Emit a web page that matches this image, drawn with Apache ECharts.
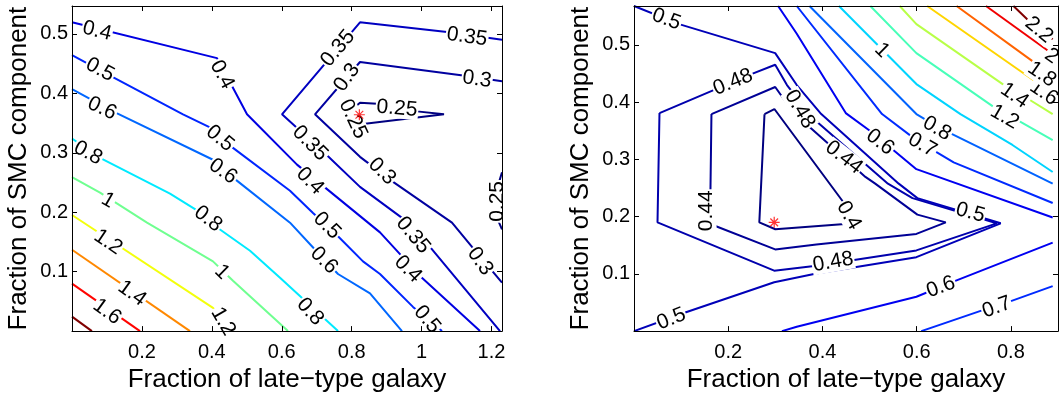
<!DOCTYPE html>
<html><head><meta charset="utf-8">
<script src="https://cdn.jsdelivr.net/npm/echarts@6/dist/echarts.min.js"></script>
<style>html,body{margin:0;padding:0;background:#fff}#c{width:1061px;height:398px}</style>
</head><body><div id="c"></div>
<script>
// ---------- LEFT PANEL DATA ----------
const xTitle = 'Fraction of late\u2212type galaxy';
const yTitle = 'Fraction of SMC component';
const leftRange = {xmax: 1.23, ymax: 0.547, cmin: 0.25, cmax: 1.8};
const L_1_8 = [[0,0.0244],[0.057,0]];
const L_1_6 = [[0,0.0798],[0.1945,0]];
const L_1_4 = [[0,0.1368],[0.3375,0]];
const L_1_2 = [[0,0.1954],[0.4033,0.0391],[0.472,0]];
const L_1_0 = [[0,0.259],[0.0801,0.2329],[0.2145,0.1824],[0.4033,0.1173],[0.4605,0.0847],[0.6178,0]];
const L_0_8 = [[0,0.3241],[0.0801,0.2915],[0.2803,0.2313],[0.3518,0.2052],[0.4233,0.171],[0.5092,0.1352],[0.595,0.0896],[0.7609,0]];
const L_0_6 = [[0,0.4072],[0.1173,0.3697],[0.4033,0.2883],[0.4662,0.2557],[0.6236,0.1824],[0.7008,0.1336],[0.7609,0.0961],[0.8524,0.0635],[0.9439,0]];
const L_0_5 = [[0,0.4642],[0.1087,0.43],[0.3175,0.3648],[0.4033,0.3404],[0.4577,0.3095],[0.6236,0.2362],[0.6894,0.1987],[0.758,0.1612],[0.8324,0.1173],[0.881,0.0961],[0.9754,0.0407],[1.0584,0]];
const L_0_4 = [[0,0.5196],[0.4148,0.4593],[0.452,0.4186],[0.5006,0.3648],[0.6436,0.2801],[0.881,0.1661],[0.9954,0.0928],[1.1671,0]];
const L_0_35 = [[1.23,0.4902],[1.0727,0.5032],[0.8238,0.5196],[0.6007,0.3648],[0.7285,0.2964],[0.8238,0.2427],[0.9439,0.1905],[1.0239,0.1417],[1.2243,0]];
const L_0_3 = [[1.23,0.4202],[1.1184,0.43],[0.8238,0.4528],[0.6951,0.3648],[0.8238,0.2932],[0.9153,0.2524],[1.0869,0.1824],[1.1442,0.1417],[1.23,0.0814]];
const L_0_25a = [[0.801,0.373],[0.8238,0.3844],[0.8724,0.3827],[0.9868,0.3697],[1.0641,0.3648],[0.8324,0.3485],[0.801,0.373]];
const L_0_25b = [[1.23,0.2671],[1.2157,0.2394],[1.2157,0.1906],[1.23,0.171]];
const leftBest = [0.822, 0.364];
// label: [x, y, text, angle]
const leftLabels = [
 [0.0715,0.5049,'0.4',-14],[0.4291,0.4316,'0.4',-62],[0.6808,0.2524,'0.4',-45],[0.9611,0.1042,'0.4',-45],
 [0.0801,0.4398,'0.5',-28],[0.4233,0.3241,'0.5',-40],[0.7294,0.1775,'0.5',-45],[1.0154,0.0195,'0.5',-50],
 [0.0858,0.3746,'0.6',-25],[0.4319,0.2687,'0.6',-35],[0.7208,0.1189,'0.6',-45],
 [0.7609,0.4756,'0.35',50],[1.1299,0.4951,'0.35',-8],[0.6808,0.316,'0.35',-45],[0.9754,0.1612,'0.35',-50],
 [0.7866,0.4267,'0.3',55],[1.1585,0.4235,'0.3',-8],[0.8867,0.2687,'0.3',-45],[1.1671,0.1173,'0.3',-55],
 [0.9296,0.3746,'0.25',-5],[0.8038,0.3567,'0.25',-65],[1.2157,0.2182,'0.25',90],
 [0.0458,0.2997,'0.8',-28],[0.389,0.1889,'0.8',-38],[0.6808,0.0326,'0.8',-48],
 [0.103,0.2199,'1',-30],[0.4291,0.0994,'1',-45],
 [0.103,0.1498,'1.2',-34],[0.4319,0.0163,'1.2',-60],
 [0.1716,0.0635,'1.4',-36],[0.1001,0.0326,'1.6',-36]
];
// ---------- RIGHT PANEL DATA ----------
const rightRange = {xmax: 0.9, ymax: 0.568, cmin: 0.4, cmax: 2.2};
const R_0_4 = [[0.277,0.379],[0.298,0.388],[0.450,0.219],[0.462,0.188],[0.300,0.178],[0.266,0.190],[0.277,0.379]];
const R_0_44 = [[0.1644,0.3792],[0.1623,0.2458],[0.1686,0.185],[0.2997,0.1427],[0.3871,0.1512],[0.5994,0.1698],[0.6618,0.19],[0.6015,0.2035],[0.512,0.2576],[0.4912,0.2694],[0.4454,0.3032],[0.3392,0.3809],[0.2997,0.4265],[0.1644,0.3792]];
const R_0_48 = [[0.0541,0.3809],[0.0499,0.19],[0.2976,0.1056],[0.3871,0.114],[0.5994,0.141],[0.77,0.1883],[0.5911,0.2323],[0.539,0.2576],[0.3809,0.3708],[0.3247,0.4299],[0.2997,0.4654],[0.2477,0.4485],[0.0541,0.3809]];
const R_0_5 = [[0,0.568],[0.0957,0.5363],[0.2997,0.4857],[0.3455,0.4299],[0.3975,0.3792],[0.5619,0.2576],[0.6015,0.2323],[0.7784,0.1883],[0.5994,0.1292],[0.3871,0.1005],[0.2976,0.0853],[0.1103,0.0329],[0,0]];
const R_0_6a = [[0.3059,0.568],[0.3455,0.5194],[0.4495,0.3809],[0.5057,0.3471],[0.5994,0.2829],[0.8887,0.1985]];
const R_0_6b = [[0.314,0],[0.3455,0.0076],[0.5994,0.06],[0.6847,0.0887],[0.8887,0.1546]];
const R_0_7a = [[0.3455,0.568],[0.5265,0.3792],[0.5994,0.3336],[0.6785,0.2948],[0.8887,0.2238]];
const R_0_7b = [[0.6098,0],[0.7451,0.038],[0.7971,0.0515],[0.8887,0.0785]];
const R_0_8 = [[0.3725,0.568],[0.5994,0.3792],[0.6473,0.3556],[0.8887,0.2576]];
const R_1_0 = [[0.435,0.568],[0.5994,0.4316],[0.693,0.3792],[0.8033,0.3252],[0.8887,0.2779]];
const R_1_2 = [[0.5016,0.568],[0.5994,0.4857],[0.7617,0.3927],[0.8242,0.364],[0.8887,0.3336]];
const R_1_4 = [[0.564,0.568],[0.5994,0.5363],[0.7825,0.4316],[0.8387,0.4046],[0.8887,0.3792]];
const R_1_6 = [[0.6223,0.568],[0.845,0.44],[0.8887,0.4164]];
const R_1_8 = [[0.6847,0.568],[0.845,0.4721],[0.8887,0.447]];
const R_2_0 = [[0.7471,0.568],[0.8803,0.489]];
const R_2_2 = [[0.8054,0.568],[0.8346,0.5448],[0.8887,0.51]];
const rightBest = [0.2976, 0.19];
const rightLabels = [
 [0.0687,0.5448,'0.5',-20],[0.0791,0.0211,'0.5',22],[0.7139,0.2069,'0.5',-15],
 [0.2102,0.435,'0.48',22],[0.3517,0.3877,'0.48',-60],[0.4225,0.1208,'0.48',10],
 [0.154,0.2103,'0.44',90],[0.4454,0.3032,'0.44',-38],
 [0.4558,0.2019,'0.4',-60],
 [0.5224,0.3302,'0.6',-38],[0.6514,0.0769,'0.6',20],
 [0.6119,0.3252,'0.7',-30],[0.77,0.0414,'0.7',20],
 [0.6431,0.3539,'0.8',-30],
 [0.5265,0.4907,'1',-45],
 [0.7867,0.3742,'1.2',-30],[0.8075,0.4113,'1.4',-35],[0.8699,0.4164,'1.6',-35],
 [0.8658,0.4485,'1.8',-35],[0.8866,0.4806,'2',-35],[0.8595,0.5262,'2.2',-40]
];

const leftContours = [[1.8,L_1_8],[1.6,L_1_6],[1.4,L_1_4],[1.2,L_1_2],[1.0,L_1_0],[0.8,L_0_8],[0.6,L_0_6],[0.5,L_0_5],[0.4,L_0_4],[0.35,L_0_35],[0.3,L_0_3],[0.25,L_0_25a],[0.25,L_0_25b]];
const rightContours = [[0.4,R_0_4],[0.44,R_0_44],[0.48,R_0_48],[0.5,R_0_5],[0.6,R_0_6a],[0.6,R_0_6b],[0.7,R_0_7a],[0.7,R_0_7b],[0.8,R_0_8],[1.0,R_1_0],[1.2,R_1_2],[1.4,R_1_4],[1.6,R_1_6],[1.8,R_1_8],[2.0,R_2_0],[2.2,R_2_2]];

// ---------- RENDERING ----------
const FONT = '"Liberation Sans", Arial, Helvetica, sans-serif';
function clamp(v){return Math.max(0,Math.min(1,v));}
function jet(t){
  const r=clamp(1.5-Math.abs(4*t-3)), g=clamp(1.5-Math.abs(4*t-2)), b=clamp(1.5-Math.abs(4*t-1));
  const h=v=>Math.round(v*255).toString(16).padStart(2,'0');
  return '#'+h(r)+h(g)+h(b);
}
function fmt(step){
  return function(v){
    if (Math.abs(v) < 1e-9) return '';
    const k = v/step;
    if (Math.abs(k-Math.round(k))>1e-6) return '';
    return String(+v.toFixed(2));
  };
}
function xAx(gi, max, pos, labels){
  return {type:'value', gridIndex:gi, position:pos, min:0, max:max, interval:0.2, z:10,
    name: labels? xTitle : '', nameLocation:'middle', nameGap:28,
    nameTextStyle:{fontFamily:FONT, fontSize:26, color:'#000'},
    axisLine:{show:true, onZero:false, lineStyle:{color:'#000', width:1}},
    axisTick:{show:true, inside:true, length:5, lineStyle:{color:'#000'}},
    axisLabel:{show:labels, inside:false, margin:11, fontFamily:FONT, fontSize:20, color:'#000', formatter:fmt(0.2)},
    splitLine:{show:false}};
}
function yAx(gi, max, pos, labels){
  return {type:'value', gridIndex:gi, position:pos, min:0, max:max, interval:0.1, z:10,
    name: labels? yTitle : '', nameLocation:'middle', nameGap:40, nameRotate:90,
    nameTextStyle:{fontFamily:FONT, fontSize:26, color:'#000'},
    axisLine:{show:true, onZero:false, lineStyle:{color:'#000', width:1}},
    axisTick:{show:true, inside:true, length:5, lineStyle:{color:'#000'}},
    axisLabel:{show:labels, margin:4, fontFamily:FONT, fontSize:20, color:'#000', formatter:fmt(0.1)},
    splitLine:{show:false}};
}
const series = [];
function addPanel(contours, labels, best, rng, xi, yi){
  contours.forEach(([lev, pts])=>{
    series.push({type:'line', xAxisIndex:xi, yAxisIndex:yi, data:pts, symbol:'none', showSymbol:false,
      silent:true, animation:false, clip:true, z:2,
      lineStyle:{color: jet((lev-rng.cmin)/(rng.cmax-rng.cmin)), width:2}});
  });
  series.push({type:'scatter', xAxisIndex:xi, yAxisIndex:yi, silent:true, animation:false, z:3,
    symbolSize:0, itemStyle:{color:'#000', opacity:1},
    data: labels.map(([x,y,t,a])=>({value:[x,y], label:{formatter:t, rotate:a}})),
    label:{show:true, position:'inside', fontFamily:FONT, fontSize:21, color:'#000', opacity:1,
      textBorderWidth:0, textBorderColor:'transparent',
      backgroundColor:'#ffffff', padding:[0,1], lineHeight:20}});
  series.push({type:'scatter', xAxisIndex:xi, yAxisIndex:yi, silent:true, animation:false, z:4,
    symbol:'path://M0,-10L0,10M-10,0L10,0M-7,-7L7,7M-7,7L7,-7', symbolSize:11,
    itemStyle:{color:'rgba(0,0,0,0)', borderColor:'#ff0000', borderWidth:1.2},
    data:[best]});
}
addPanel(leftContours, leftLabels, leftBest, leftRange, 0, 0);
addPanel(rightContours, rightLabels, rightBest, rightRange, 2, 2);

const chart = echarts.init(document.getElementById('c'), null, {renderer:'canvas'});
chart.setOption({
  animation:false, backgroundColor:'#fff',
  grid:[{left:72, top:6, width:430, height:336},{left:634, top:6, width:432, height:336}],
  xAxis:[xAx(0,leftRange.xmax,'bottom',true), xAx(0,leftRange.xmax,'top',false),
         xAx(1,rightRange.xmax,'bottom',true), xAx(1,rightRange.xmax,'top',false)],
  yAxis:[yAx(0,leftRange.ymax,'left',true), yAx(0,leftRange.ymax,'right',false),
         yAx(1,rightRange.ymax,'left',true), yAx(1,rightRange.ymax,'right',false)],
  series: series
});
</script></body></html>
